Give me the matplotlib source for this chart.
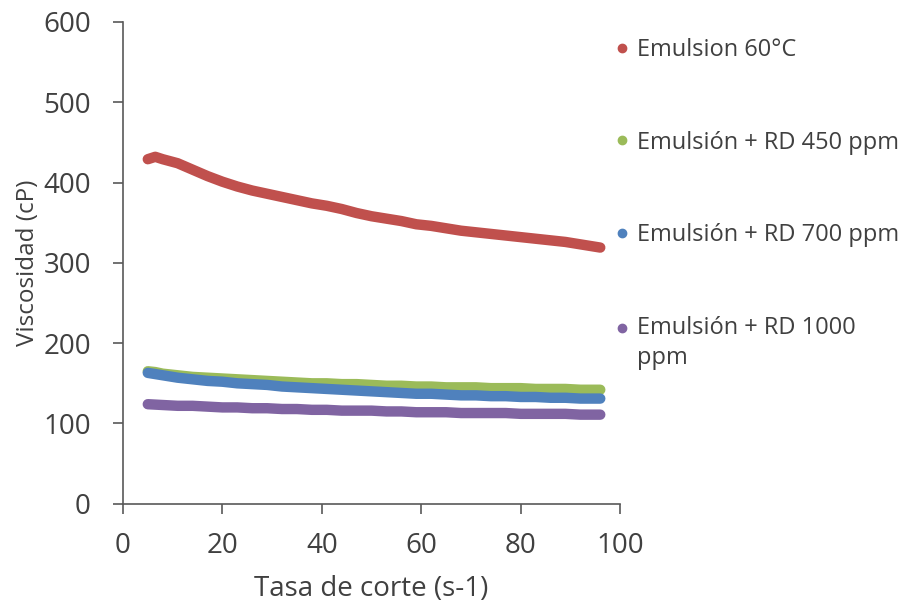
import matplotlib.pyplot as plt

# shear rate (s-1)
tasa = [5, 6.5, 8, 11, 14, 17, 20, 23, 26, 29, 32, 35, 38, 41, 44, 47, 50,
        53, 56, 59, 62, 65, 68, 71, 74, 77, 80, 83, 86, 89, 92, 95, 96]

# viscosity (cP)
visc_60c = [429, 432, 429, 424, 416, 408, 401, 395, 390, 386, 382, 378, 374,
            371, 367, 362, 358, 355, 352, 348, 346, 343, 340, 338, 336, 334,
            332, 330, 328, 326, 323, 320, 319]
visc_450 = [165, 164, 162, 160, 158, 157, 156, 155, 154, 153, 152, 151, 150,
            150, 149, 149, 148, 147, 147, 146, 146, 145, 145, 145, 144, 144,
            144, 143, 143, 143, 142, 142, 142]
visc_700 = [163, 161.5, 160, 157, 155, 153, 152, 150, 149, 148, 146, 145, 144,
            143, 142, 141, 140, 139, 138, 137, 137, 136, 135, 135, 134, 134,
            133, 133, 132, 132, 131, 131, 131]
visc_1000 = [124, 123.5, 123, 122, 122, 121, 120, 120, 119, 119, 118, 118, 117,
             117, 116, 116, 116, 115, 115, 114, 114, 114, 113, 113, 113, 113,
             112, 112, 112, 112, 111, 111, 111]

series = [
    ("Emulsion 60°C", visc_60c, "#C0504D"),
    ("Emulsión + RD 450 ppm", visc_450, "#9BBB59"),
    ("Emulsión + RD 700 ppm", visc_700, "#4F81BD"),
    ("Emulsión + RD 1000\nppm", visc_1000, "#8064A2"),
]

plt.rcParams["font.family"] = ["Open Sans", "DejaVu Sans"]
text_color = "#404040"

fig = plt.figure(figsize=(9.04, 6.07), dpi=100)
ax = fig.add_axes([0.136, 0.170, 0.550, 0.794])

for label, vals, color in series:
    ax.plot(tasa, vals, color=color, lw=7.5, solid_capstyle="round",
            solid_joinstyle="round", label=label)

ax.set_xlim(0, 100)
ax.set_ylim(0, 600)
ax.set_xticks(range(0, 101, 20))
ax.set_yticks(range(0, 601, 100))
for side in ("top", "right"):
    ax.spines[side].set_visible(False)
for side in ("left", "bottom"):
    ax.spines[side].set_color("#595959")
    ax.spines[side].set_linewidth(1.2)
ax.tick_params(direction="out", length=7, width=1.2, color="#595959",
               labelsize=20, labelcolor=text_color)
ax.tick_params(axis="x", pad=13)
ax.tick_params(axis="y", pad=16)

ax.set_xlabel("Tasa de corte (s-1)", fontsize=20, color=text_color)
ax.set_ylabel("Viscosidad (cP)", fontsize=17.5, color=text_color)
ax.xaxis.label.set_va("center")
ax.yaxis.label.set_va("center")
ax.xaxis.set_label_coords(0.5, -0.176)
ax.yaxis.set_label_coords(-0.19, 0.5)

leg = ax.legend(loc="upper left", bbox_to_anchor=(0.95, 1.01), frameon=False,
                fontsize=17, labelspacing=2.9, handlelength=0.5,
                handletextpad=0.35, numpoints=1)
for h in leg.legend_handles:
    h.set_linestyle("none")
    h.set_marker("o")
    h.set_markersize(6)
for t in leg.get_texts():
    t.set_color(text_color)
    t.set_linespacing(1.36)

# keep the marker of the two-line entry on its first line
last = leg.legend_handles[-1]
last.set_ydata([y + 11 for y in last.get_ydata()])

fig.savefig("out.png", dpi=100)
